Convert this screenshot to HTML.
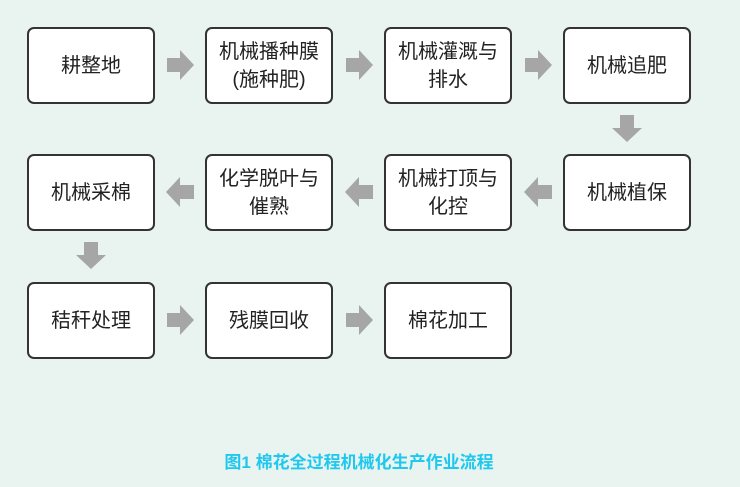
<!DOCTYPE html>
<html><head><meta charset="utf-8"><style>
body{margin:0;width:740px;height:487px;background:#e9f4f1;position:relative;overflow:hidden;font-family:"Liberation Sans","Noto Sans CJK SC",sans-serif;}
.b{position:absolute;width:124px;height:73px;border:2px solid #333;border-radius:7px;background:#fff;display:flex;align-items:center;justify-content:center;text-align:center;font-size:20px;line-height:28px;color:#222;}
svg{position:absolute;left:0;top:0}
.cap{position:absolute;width:740px;top:448px;text-align:center;font-size:17px;font-weight:bold;color:#1ec8ee;}
</style></head><body>
<svg width="740" height="487">
<g fill="#a6a6a6">
<polygon points="167,58 180,58 180,50 194,65 180,80 180,72 167,72"/>
<polygon points="346,58 359,58 359,50 373,65 359,80 359,72 346,72"/>
<polygon points="525,58 538,58 538,50 552,65 538,80 538,72 525,72"/>
<polygon points="620,115 634,115 634,128 642,128 627,142 612,128 620,128"/>
<polygon points="552,185 538,185 538,177 524,192 538,207 538,199 552,199"/>
<polygon points="373,185 359,185 359,177 345,192 359,207 359,199 373,199"/>
<polygon points="194,185 180,185 180,177 166,192 180,207 180,199 194,199"/>
<polygon points="84,242 98,242 98,255 106,255 91,269 76,255 84,255"/>
<polygon points="167,313 180,313 180,305 194,320 180,335 180,327 167,327"/>
<polygon points="346,313 359,313 359,305 373,320 359,335 359,327 346,327"/>
</g></svg>
<div class="b" style="left:27px;top:27px">耕整地</div>
<div class="b" style="left:205px;top:27px">机械播种膜<br>(施种肥)</div>
<div class="b" style="left:384px;top:27px">机械灌溉与<br>排水</div>
<div class="b" style="left:563px;top:27px">机械追肥</div>
<div class="b" style="left:27px;top:154px">机械采棉</div>
<div class="b" style="left:205px;top:154px">化学脱叶与<br>催熟</div>
<div class="b" style="left:384px;top:154px">机械打顶与<br>化控</div>
<div class="b" style="left:563px;top:154px">机械植保</div>
<div class="b" style="left:27px;top:282px">秸秆处理</div>
<div class="b" style="left:205px;top:282px">残膜回收</div>
<div class="b" style="left:384px;top:282px">棉花加工</div>
<div class="cap" style="left:-11px">图1 棉花全过程机械化生产作业流程</div>
</body></html>
